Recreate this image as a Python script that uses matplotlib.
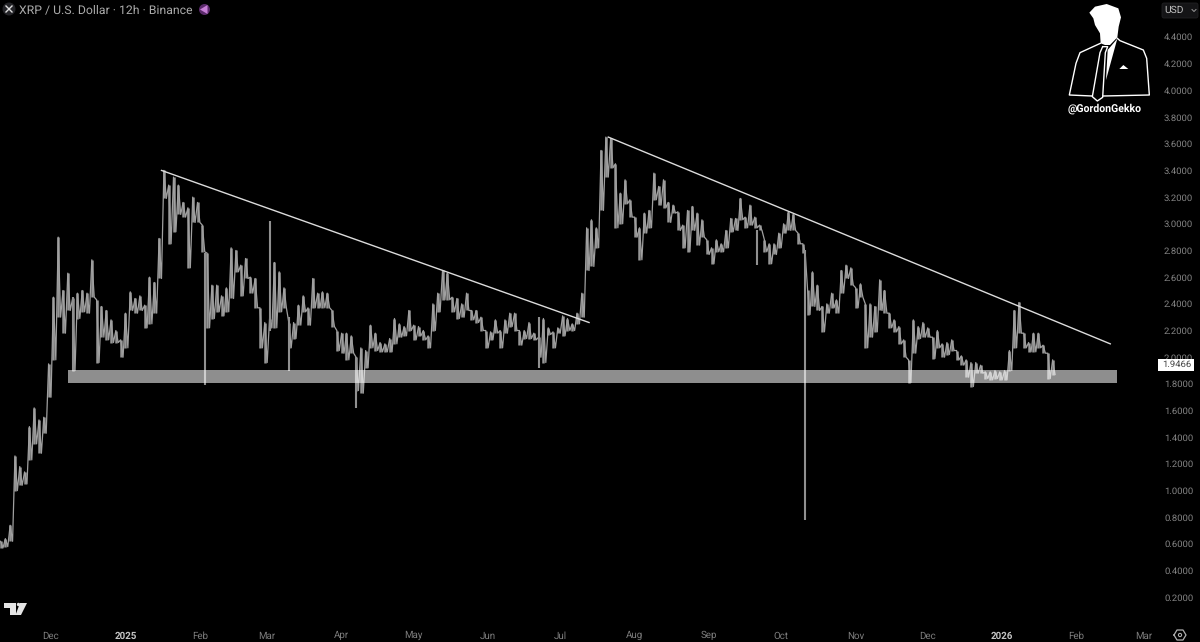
import datetime as dt
import numpy as np
import matplotlib
matplotlib.use('Agg')
import matplotlib.pyplot as plt
import matplotlib.dates as mdates
from matplotlib.patches import Polygon, Circle, FancyBboxPatch, Rectangle

plt.rcParams['font.family'] = ['Roboto', 'DejaVu Sans']
plt.rcParams['text.hinting'] = 'no_hinting'

# price swings, one pair every 2 days starting 2024-11-10
highs = [.62,.64,.74,1.26,1.18,1.14,1.48,1.62,1.53,1.55,1.95,2.45,2.90,2.50,2.63,2.44,2.48,2.50,2.48,2.73,2.43,
         2.38,2.35,2.28,2.20,2.13,2.33,2.49,2.44,2.46,2.39,2.60,2.56,2.89,3.40,3.29,3.35,3.29,3.16,3.12,3.20,3.16,
         2.99,2.78,2.54,2.54,2.46,2.52,2.82,2.80,2.69,2.74,2.60,2.59,2.37,2.26,2.29,2.71,2.64,2.52,2.26,2.26,2.39,
         2.46,2.37,2.59,2.48,2.49,2.48,2.35,2.20,2.18,2.18,2.16,2.00,2.07,2.05,2.24,2.18,2.11,2.10,2.14,2.29,2.25,
         2.23,2.35,2.24,2.23,2.20,2.16,2.40,2.48,2.65,2.63,2.45,2.44,2.40,2.48,2.35,2.35,2.30,2.20,2.19,2.28,2.20,
         2.28,2.33,2.33,2.20,2.20,2.26,2.18,2.15,2.29,2.22,2.19,2.22,2.31,2.29,2.25,2.33,2.48,2.97,3.03,2.97,3.55,
         3.65,3.64,3.45,3.23,3.33,3.18,3.05,2.97,3.08,3.10,3.38,3.28,3.33,3.16,3.14,3.09,2.99,3.10,3.13,3.08,3.03,
         2.88,2.82,2.88,2.85,2.95,3.04,3.04,3.19,3.05,3.14,3.05,2.99,2.88,2.85,2.85,2.93,3.00,3.09,3.07,2.93,2.85,
         2.50,2.64,2.54,2.38,2.40,2.48,2.43,2.65,2.69,2.67,2.52,2.55,2.40,2.40,2.38,2.58,2.50,2.33,2.28,2.23,2.13,
         1.98,2.28,2.23,2.26,2.22,2.15,2.20,2.10,2.11,2.13,2.05,2.01,1.98,1.96,1.96,1.94,1.89,1.89,1.90,1.89,1.90,
         2.05,2.35,2.41,2.18,2.11,2.18,2.18,2.09,2.03,1.98]
lows = [.57,.58,.62,1.00,1.04,1.05,1.23,1.35,1.28,1.43,1.70,1.98,2.30,2.18,2.35,1.90,2.29,2.34,2.33,2.45,1.96,
        2.15,2.13,2.11,2.11,2.00,2.07,2.35,2.33,2.35,2.22,2.25,2.33,2.59,3.19,2.85,2.94,3.07,3.05,2.67,3.01,3.01,
        2.79,2.22,2.29,2.34,2.31,2.34,2.44,2.64,2.46,2.59,2.48,2.37,2.07,1.96,2.22,2.22,2.34,2.37,2.07,2.14,2.24,
        2.34,2.24,2.37,2.37,2.37,2.37,2.23,2.05,2.03,1.98,2.03,1.75,1.73,1.92,2.07,2.05,2.04,2.04,2.04,2.10,2.15,
        2.16,2.20,2.13,2.16,2.13,2.07,2.20,2.34,2.43,2.43,2.34,2.29,2.30,2.35,2.28,2.26,2.20,2.07,2.13,2.18,2.07,
        2.18,2.23,2.20,2.09,2.14,2.14,2.13,2.00,1.96,2.17,2.07,2.18,2.16,2.20,2.20,2.25,2.30,2.65,2.68,2.82,3.10,
        3.35,3.42,2.97,3.00,3.15,3.05,2.90,2.73,2.93,2.97,3.18,3.14,3.12,3.01,3.08,2.95,2.82,2.79,2.95,2.84,2.90,
        2.77,2.70,2.79,2.79,2.82,2.94,2.95,3.03,2.97,2.99,2.97,2.95,2.79,2.70,2.77,2.82,2.93,2.95,2.95,2.85,2.78,
        2.32,2.38,2.35,2.19,2.33,2.37,2.33,2.48,2.59,2.54,2.37,2.45,2.07,2.15,2.19,2.35,2.33,2.22,2.19,2.10,2.00,
        1.81,2.03,2.14,2.15,2.15,1.99,2.07,2.00,2.02,2.05,1.98,1.94,1.85,1.78,1.88,1.88,1.84,1.83,1.84,1.83,1.83,
        1.90,2.07,2.18,2.07,2.04,2.04,2.07,2.03,1.84,1.87]
# long single wicks
spike_days = ['2024-12-10', '2025-02-03', '2025-03-02', '2025-03-10', '2025-04-07', '2025-06-22', '2025-10-11', '2025-09-21']
spike_lows = [1.90, 1.79, 2.20, 1.90, 1.62, 1.92, 0.78, 2.69]
spike_highs = [2.45, 2.78, 3.02, 2.30, 2.00, 2.30, 2.80, 2.95]

first_day = mdates.date2num(dt.date(2024, 11, 10))
days = first_day + np.arange(len(highs)) * 2

line_days = [['2025-01-16', '2025-07-13'], ['2025-07-21', '2026-02-15']]
line_prices = [[3.40, 2.26], [3.65, 2.10]]
zone_days = ['2024-12-08', '2026-02-18']
zone_prices = [1.81, 1.905]

price_ticks = [round(0.2 * i, 1) for i in range(1, 23)]
month_days = ['2024-12-01', '2025-01-01', '2025-02-01', '2025-03-01', '2025-04-01', '2025-05-01', '2025-06-01',
              '2025-07-01', '2025-08-01', '2025-09-01', '2025-10-01', '2025-11-01', '2025-12-01', '2026-01-01',
              '2026-02-01', '2026-03-01']
month_labels = ['Dec', '2025', 'Feb', 'Mar', 'Apr', 'May', 'Jun', 'Jul', 'Aug', 'Sep', 'Oct', 'Nov', 'Dec', '2026',
                'Feb', 'Mar']
last_price = 1.9466


def num(d):
    return mdates.datestr2num(d)


fig = plt.figure(figsize=(12, 6.42), dpi=100, facecolor='black')
ax = fig.add_axes([0, 18 / 642, 1155 / 1200, 624 / 642], facecolor='black')
ax.set_xlim(num('2024-12-01') - 51 / 2.402, num('2024-12-01') + (1155 - 51) / 2.402)
ax.set_ylim(0.0, 4.6775)
for s in ax.spines.values():
    s.set_visible(False)

ax.vlines(days, lows, highs, color='#969696', lw=1.8, zorder=2)
zig_x = np.ravel(np.column_stack([days, days + 1]))
zig_y = np.ravel(np.column_stack([highs, lows]))
ax.plot(zig_x, zig_y, color='#a0a0a0', lw=0.9, zorder=2)
ax.vlines(num(spike_days), spike_lows, spike_highs, color='#909090', lw=1.5, zorder=2)

for d, p in zip(line_days, line_prices):
    ax.plot(num(d), p, color='#dcdcdc', lw=1.0, zorder=3)
ax.fill_between(num(zone_days), zone_prices[0], zone_prices[1], color='white', alpha=0.56, lw=0, zorder=4)

ax.yaxis.tick_right()
ax.set_yticks(price_ticks, ['%.4f' % t for t in price_ticks])
ax.tick_params(axis='y', length=0, pad=6.5, labelsize=6.8, labelcolor='#858585')
ax.set_xticks(num(month_days), month_labels)
ax.tick_params(axis='x', length=0, pad=5.0, labelsize=7, labelcolor='#7d7d7d')
for lab in ax.get_xticklabels():
    if lab.get_text().startswith('20'):
        lab.set_fontweight('bold')
        lab.set_color('#c4c4c4')

# page furniture, in pixel coordinates
ov = fig.add_axes([0, 0, 1, 1], facecolor='none')
ov.set_xlim(0, 1200)
ov.set_ylim(642, 0)
ov.axis('off')

ov.add_patch(Rectangle((1158, 359), 36, 11.5, fc='white', ec='none'))
ov.text(1177, 364.9, '%.4f' % last_price, fontsize=6.8, color='#444444', ha='center', va='center')

ov.text(19, 9.5, 'XRP / U.S. Dollar · 12h · Binance', color='#ababab', fontsize=8.85, va='center', ha='left')
ov.add_patch(Circle((9, 9), 6.5, fc='#242428', ec='none'))
ov.plot([6, 12], [6, 12], color='#dddddd', lw=1)
ov.plot([6, 12], [12, 6], color='#dddddd', lw=1)
ov.add_patch(Circle((204.5, 9.5), 5.5, fc='#5a2a6a', ec='none'))
ov.add_patch(Polygon([(200, 9.5), (207.5, 5), (207.5, 14)], fc='#c77fd6', ec='none'))

ov.add_patch(FancyBboxPatch((1162, 3), 36, 15, boxstyle='round,pad=0,rounding_size=2', fc='#141416', ec='#202022', lw=0.6))
ov.text(1164, 10.5, 'USD', color='#c0c0c0', fontsize=7.4, va='center', ha='left')
ov.plot([1192, 1194, 1196], [9.5, 11.5, 9.5], color='#999999', lw=0.7)


def zoomed(pts):
    # portrait points measured from the 3x crop at (1040, 0)
    return [(1040 + a / 3, b / 3) for a, b in pts]


head = [(148, 38), (165, 20), (200, 12), (235, 25), (243, 52), (236, 80), (232, 112), (210, 135), (195, 135),
        (182, 130), (180, 100), (165, 75), (160, 55)]
shirt = [(203, 150), (232, 116), (198, 240)]
pocket = [(238, 207), (250, 195), (265, 207)]
suit_left = [(181, 130), (120, 158), (108, 190), (88, 285), (156, 288)]
suit_right = [(232, 115), (240, 122), (310, 150), (320, 175), (328, 285), (190, 288)]
tie = [(188, 140), (203, 140), (196, 158), (188, 292), (172, 303), (157, 290), (180, 158), (188, 140)]
for shape in (head, shirt, pocket):
    ov.add_patch(Polygon(zoomed(shape), fc='white', ec='none'))
for path in (suit_left, suit_right, tie):
    pts = np.array(zoomed(path))
    ov.plot(pts[:, 0], pts[:, 1], color='white', lw=1.0)
ov.text(1104.5, 108.5, '@GordonGekko', color='white', fontsize=7.6, fontweight='bold', va='center', ha='center')

logo = [[(4, 603), (16, 603), (16, 615), (10, 615), (10, 608), (4, 608)],
        [(20, 603), (27, 603), (21, 615), (15.5, 615)]]
for shape in logo:
    ov.add_patch(Polygon(shape, fc='#e4e4e4', ec='none'))
ov.add_patch(Circle((18.5, 604.5), 1.7, fc='#e4e4e4', ec='none'))

gear = [(1174, 635), (1177, 630), (1183, 630), (1186, 635), (1183, 640), (1177, 640), (1174, 635)]
ov.plot(*np.array(gear).T, color='#b0b0b0', lw=0.9)
ov.add_patch(Circle((1180, 635), 1.6, fc='none', ec='#b0b0b0', lw=0.8))

fig.savefig('out.png', dpi=100, facecolor='black')
